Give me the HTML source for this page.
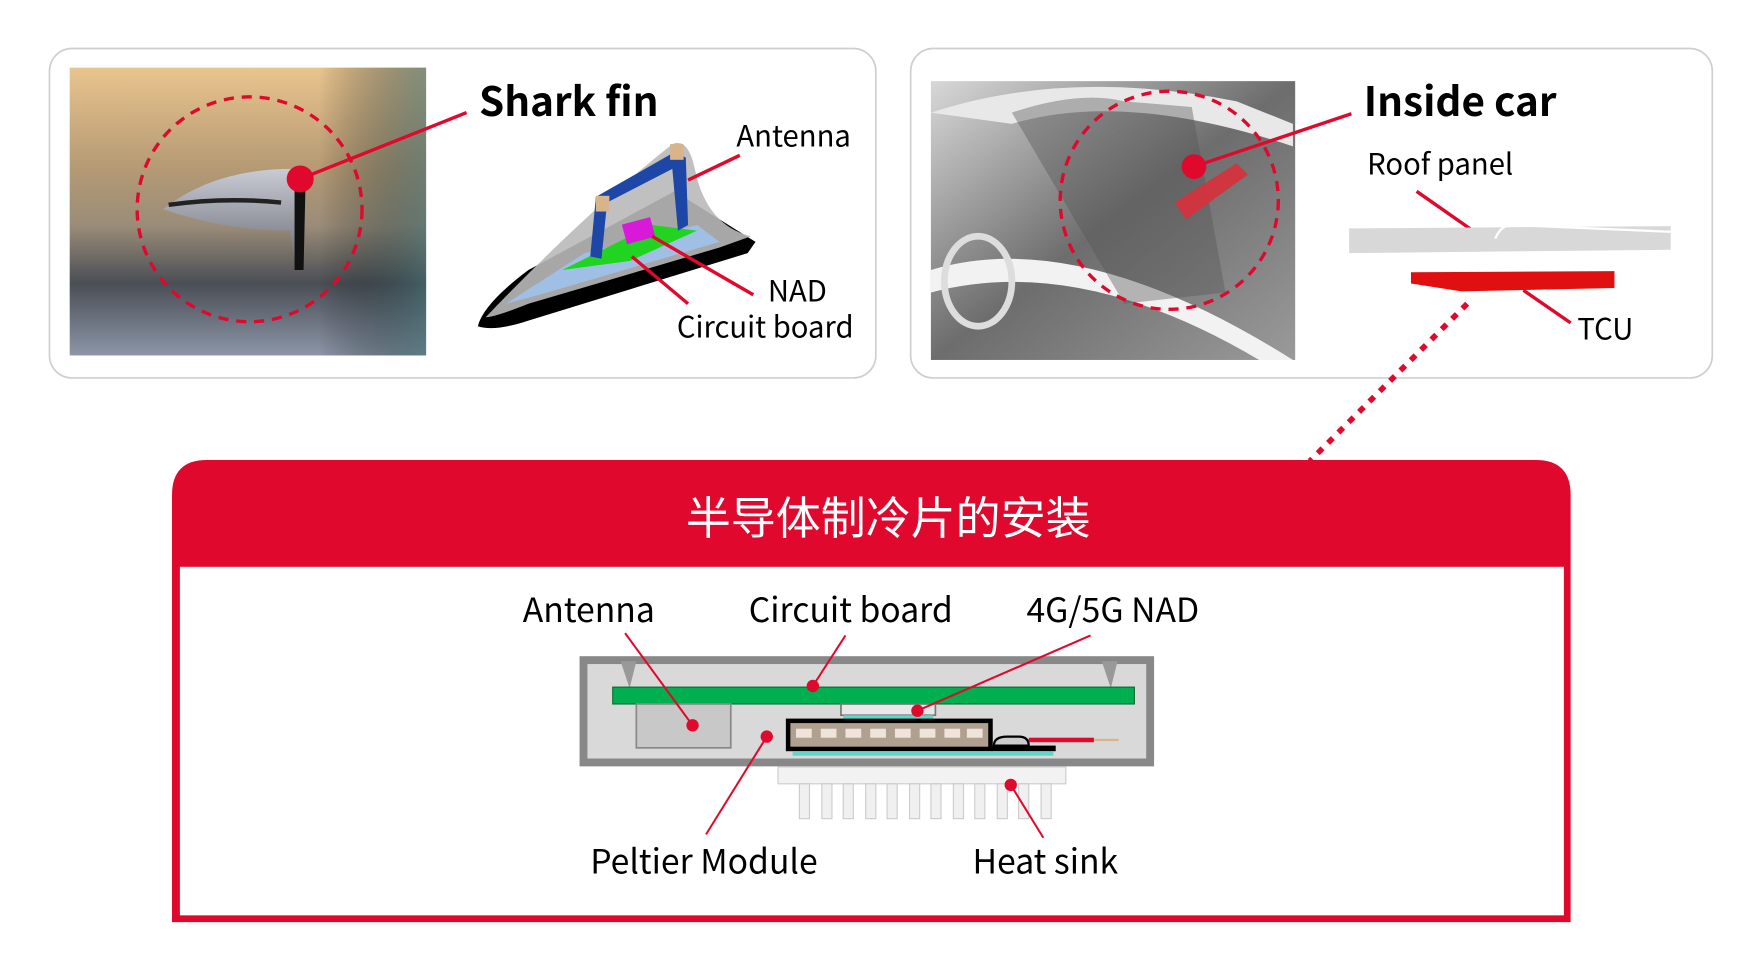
<!DOCTYPE html>
<html><head><meta charset="utf-8"><style>
html,body{margin:0;padding:0;background:#fff;}
svg{display:block;}
text{font-family:"Noto Sans CJK SC","Liberation Sans",sans-serif;}
</style></head><body>
<svg width="1764" height="956" viewBox="0 0 1569 850" xmlns="http://www.w3.org/2000/svg">
<defs>
<linearGradient id="ph" x1="0" y1="0" x2="0" y2="1">
<stop offset="0" stop-color="#e9c48e"/><stop offset="0.35" stop-color="#b59a74"/>
<stop offset="0.55" stop-color="#9a8c78"/><stop offset="0.75" stop-color="#4a4e55"/><stop offset="1" stop-color="#8c96a8"/></linearGradient>
<linearGradient id="ph2" x1="0" y1="0" x2="1" y2="0">
<stop offset="0" stop-color="#000" stop-opacity="0"/><stop offset="0.7" stop-color="#000" stop-opacity="0"/><stop offset="1" stop-color="#3f6b70" stop-opacity="0.6"/></linearGradient>
<linearGradient id="car" x1="0" y1="0" x2="1" y2="1">
<stop offset="0" stop-color="#d8d8d8"/><stop offset="0.5" stop-color="#6d6d6d"/><stop offset="1" stop-color="#9a9a9a"/></linearGradient>
<linearGradient id="fin" x1="0" y1="0" x2="0" y2="1">
<stop offset="0" stop-color="#c9ccd4"/><stop offset="1" stop-color="#70737c"/></linearGradient>
</defs>

<rect x="44" y="43" width="735" height="293" rx="20" fill="#fff" stroke="#cfcfcf" stroke-width="1.5"/>
<rect x="62" y="60" width="317" height="256" fill="url(#ph)"/>
<rect x="62" y="60" width="317" height="256" fill="url(#ph2)"/>
<path d="M145 186 Q190 150 260 150 L272 150 L270 230 L262 230 L258 205 Q200 205 145 186 Z" fill="url(#fin)"/>
<path d="M150 182 Q200 175 250 180" stroke="#222" stroke-width="4" fill="none"/>
<path d="M262 152 L272 152 L270 240 L262 240 Z" fill="#111"/>
<circle cx="222" cy="186" r="100" fill="none" stroke="#e0082c" stroke-width="3" stroke-dasharray="9 7"/>
<line x1="267" y1="159" x2="415" y2="100" stroke="#e0082c" stroke-width="3"/>
<circle cx="267" cy="159" r="12" fill="#e0082c"/>
<text x="426" y="103" font-size="36" font-weight="bold">Shark fin</text>

<path d="M425 290 Q430 270 470 240 L600 170 L672 215 L665 225 L470 285 Q440 295 425 290 Z" fill="#000"/>
<path d="M432 282 Q520 190 598 128 Q612 122 618 150 Q628 200 668 210 L640 220 L470 270 Q440 282 432 282 Z" fill="#b9b9b9" opacity="0.9"/>
<path d="M450 270 L520 225 L620 200 L640 215 L480 262 Z" fill="#9fc0e4"/>
<path d="M500 240 L580 200 L620 205 L560 232 Z" fill="#22d422"/>
<rect x="555" y="196" width="26" height="18" fill="#d81ad8" transform="rotate(-15 568 205)"/>
<path d="M525 228 L530 175 L600 135 L610 140 L612 200 L603 205 L598 150 L540 180 L535 230 Z" fill="#1d46a6"/>
<rect x="530" y="174" width="12" height="14" fill="#d7b48a"/>
<rect x="596" y="128" width="12" height="14" fill="#d7b48a"/>
<line x1="612" y1="160" x2="658" y2="138" stroke="#e0082c" stroke-width="3"/>
<line x1="580" y1="210" x2="670" y2="262" stroke="#e0082c" stroke-width="3"/>
<line x1="562" y1="228" x2="612" y2="270" stroke="#e0082c" stroke-width="3"/>
<text x="655" y="130" font-size="26">Antenna</text>
<text x="683" y="268" font-size="26">NAD</text>
<text x="602" y="300" font-size="26">Circuit board</text>

<rect x="810" y="43" width="713" height="293" rx="20" fill="#fff" stroke="#cfcfcf" stroke-width="1.5"/>
<rect x="828" y="72" width="324" height="248" fill="url(#car)"/>
<path d="M828 240 Q960 200 1150 320 L1120 320 Q960 225 828 260 Z" fill="#f2f2f2"/>
<path d="M828 100 Q950 60 1100 90 L1150 110 L1150 130 Q1000 80 900 110 Z" fill="#e8e8e8"/>
<path d="M900 100 Q960 80 1000 90 L1060 95 L1090 260 L1000 270 Z" fill="#555" opacity="0.4"/>
<ellipse cx="870" cy="250" rx="30" ry="40" fill="none" stroke="#ddd" stroke-width="6"/>
<path d="M1045 180 L1100 145 L1110 155 L1055 195 Z" fill="#d9303a" opacity="0.9"/>
<circle cx="1040" cy="178" r="97" fill="none" stroke="#e0082c" stroke-width="3" stroke-dasharray="9 7"/>
<line x1="1062" y1="148" x2="1202" y2="101" stroke="#e0082c" stroke-width="3"/>
<circle cx="1062" cy="148" r="11" fill="#e0082c"/>
<text x="1213" y="103" font-size="36" font-weight="bold">Inside car</text>
<text x="1216" y="155" font-size="26">Roof panel</text>
<line x1="1260" y1="170" x2="1310" y2="205" stroke="#e0082c" stroke-width="3"/>
<path d="M1200 203 L1486 201 L1486 222 L1200 225 Z" fill="#d8d8d8"/>
<path d="M1330 212 Q1335 200 1345 200 L1486 206" stroke="#fff" stroke-width="2" fill="none"/>
<path d="M1255 242 L1436 241 L1436 256 L1300 259 L1255 252 Z" fill="#e01010"/>
<line x1="1355" y1="258" x2="1397" y2="287" stroke="#e0082c" stroke-width="3"/>
<text x="1403" y="302" font-size="26">TCU</text>
<line x1="1305" y1="270" x2="1165" y2="410" stroke="#e0082c" stroke-width="5" stroke-dasharray="6 7"/>

<path d="M153 820 L153 440 Q153 409 184 409 L1366 409 Q1397 409 1397 440 L1397 820 Z" fill="#e0082c"/>
<rect x="160" y="504" width="1231" height="310" fill="#fff"/>
<text x="790" y="475" font-size="40" fill="#fff" text-anchor="middle">半导体制冷片的安装</text>

<text x="465" y="553" font-size="30">Antenna</text>
<text x="666" y="553" font-size="30">Circuit board</text>
<text x="913" y="553" font-size="30">4G/5G NAD</text>
<text x="525" y="777" font-size="30">Peltier Module</text>
<text x="865" y="777" font-size="30">Heat sink</text>

<rect x="519" y="587" width="504" height="91" fill="#d9d9d9" stroke="#888" stroke-width="7"/>
<path d="M552 588 L566 588 L560 612 Z" fill="#999"/>
<path d="M980 588 L994 588 L988 612 Z" fill="#999"/>
<rect x="545" y="611" width="464" height="15" fill="#00b050" stroke="#0a6b30" stroke-width="1"/>
<rect x="566" y="626" width="84" height="39" fill="#c8c8c8" stroke="#888" stroke-width="1.5"/>
<rect x="748" y="626" width="84" height="10" fill="#e8e8e8" stroke="#777" stroke-width="1.5"/>
<rect x="750" y="636" width="80" height="4" fill="#5fd6c8"/>
<rect x="701" y="641" width="180" height="25" fill="#b0a090" stroke="#000" stroke-width="4"/>
<g fill="#eee4da"><rect x="708" y="648" width="14" height="8"/><rect x="730" y="648" width="14" height="8"/><rect x="752" y="648" width="14" height="8"/><rect x="774" y="648" width="14" height="8"/><rect x="796" y="648" width="14" height="8"/><rect x="818" y="648" width="14" height="8"/><rect x="840" y="648" width="14" height="8"/><rect x="860" y="648" width="14" height="8"/></g>
<rect x="881" y="663" width="58" height="5" fill="#000"/>
<path d="M884 663 Q884 655 896 655 L906 655 Q915 655 915 663 Z" fill="#ccc" stroke="#000" stroke-width="2"/>
<rect x="915" y="656" width="58" height="4" fill="#e0082c"/>
<rect x="973" y="657" width="22" height="2" fill="#d9b48a"/>
<rect x="705" y="668" width="232" height="4" fill="#5fd6c8"/>
<rect x="692" y="682" width="256" height="15" fill="#f2f2f2" stroke="#ccc" stroke-width="1"/>
<g fill="#f0f0f0" stroke="#ccc" stroke-width="1">
<rect x="711" y="697" width="9" height="31"/><rect x="731" y="697" width="9" height="31"/><rect x="750" y="697" width="9" height="31"/><rect x="770" y="697" width="9" height="31"/><rect x="789" y="697" width="9" height="31"/><rect x="809" y="697" width="9" height="31"/><rect x="828" y="697" width="9" height="31"/><rect x="848" y="697" width="9" height="31"/><rect x="867" y="697" width="9" height="31"/><rect x="887" y="697" width="9" height="31"/><rect x="906" y="697" width="9" height="31"/><rect x="926" y="697" width="9" height="31"/>
</g>
<g stroke="#e0082c" stroke-width="1.8">
<line x1="556" y1="563" x2="616" y2="645"/>
<line x1="752" y1="565" x2="723" y2="610"/>
<line x1="970" y1="565" x2="816" y2="632"/>
<line x1="682" y1="655" x2="628" y2="742"/>
<line x1="899" y1="698" x2="928" y2="745"/>
</g>
<g fill="#e0082c">
<circle cx="616" cy="645" r="5.5"/><circle cx="723" cy="610" r="5.5"/><circle cx="816" cy="632" r="5.5"/><circle cx="682" cy="655" r="5.5"/><circle cx="899" cy="698" r="5.5"/>
</g>
</svg>
</body></html>
